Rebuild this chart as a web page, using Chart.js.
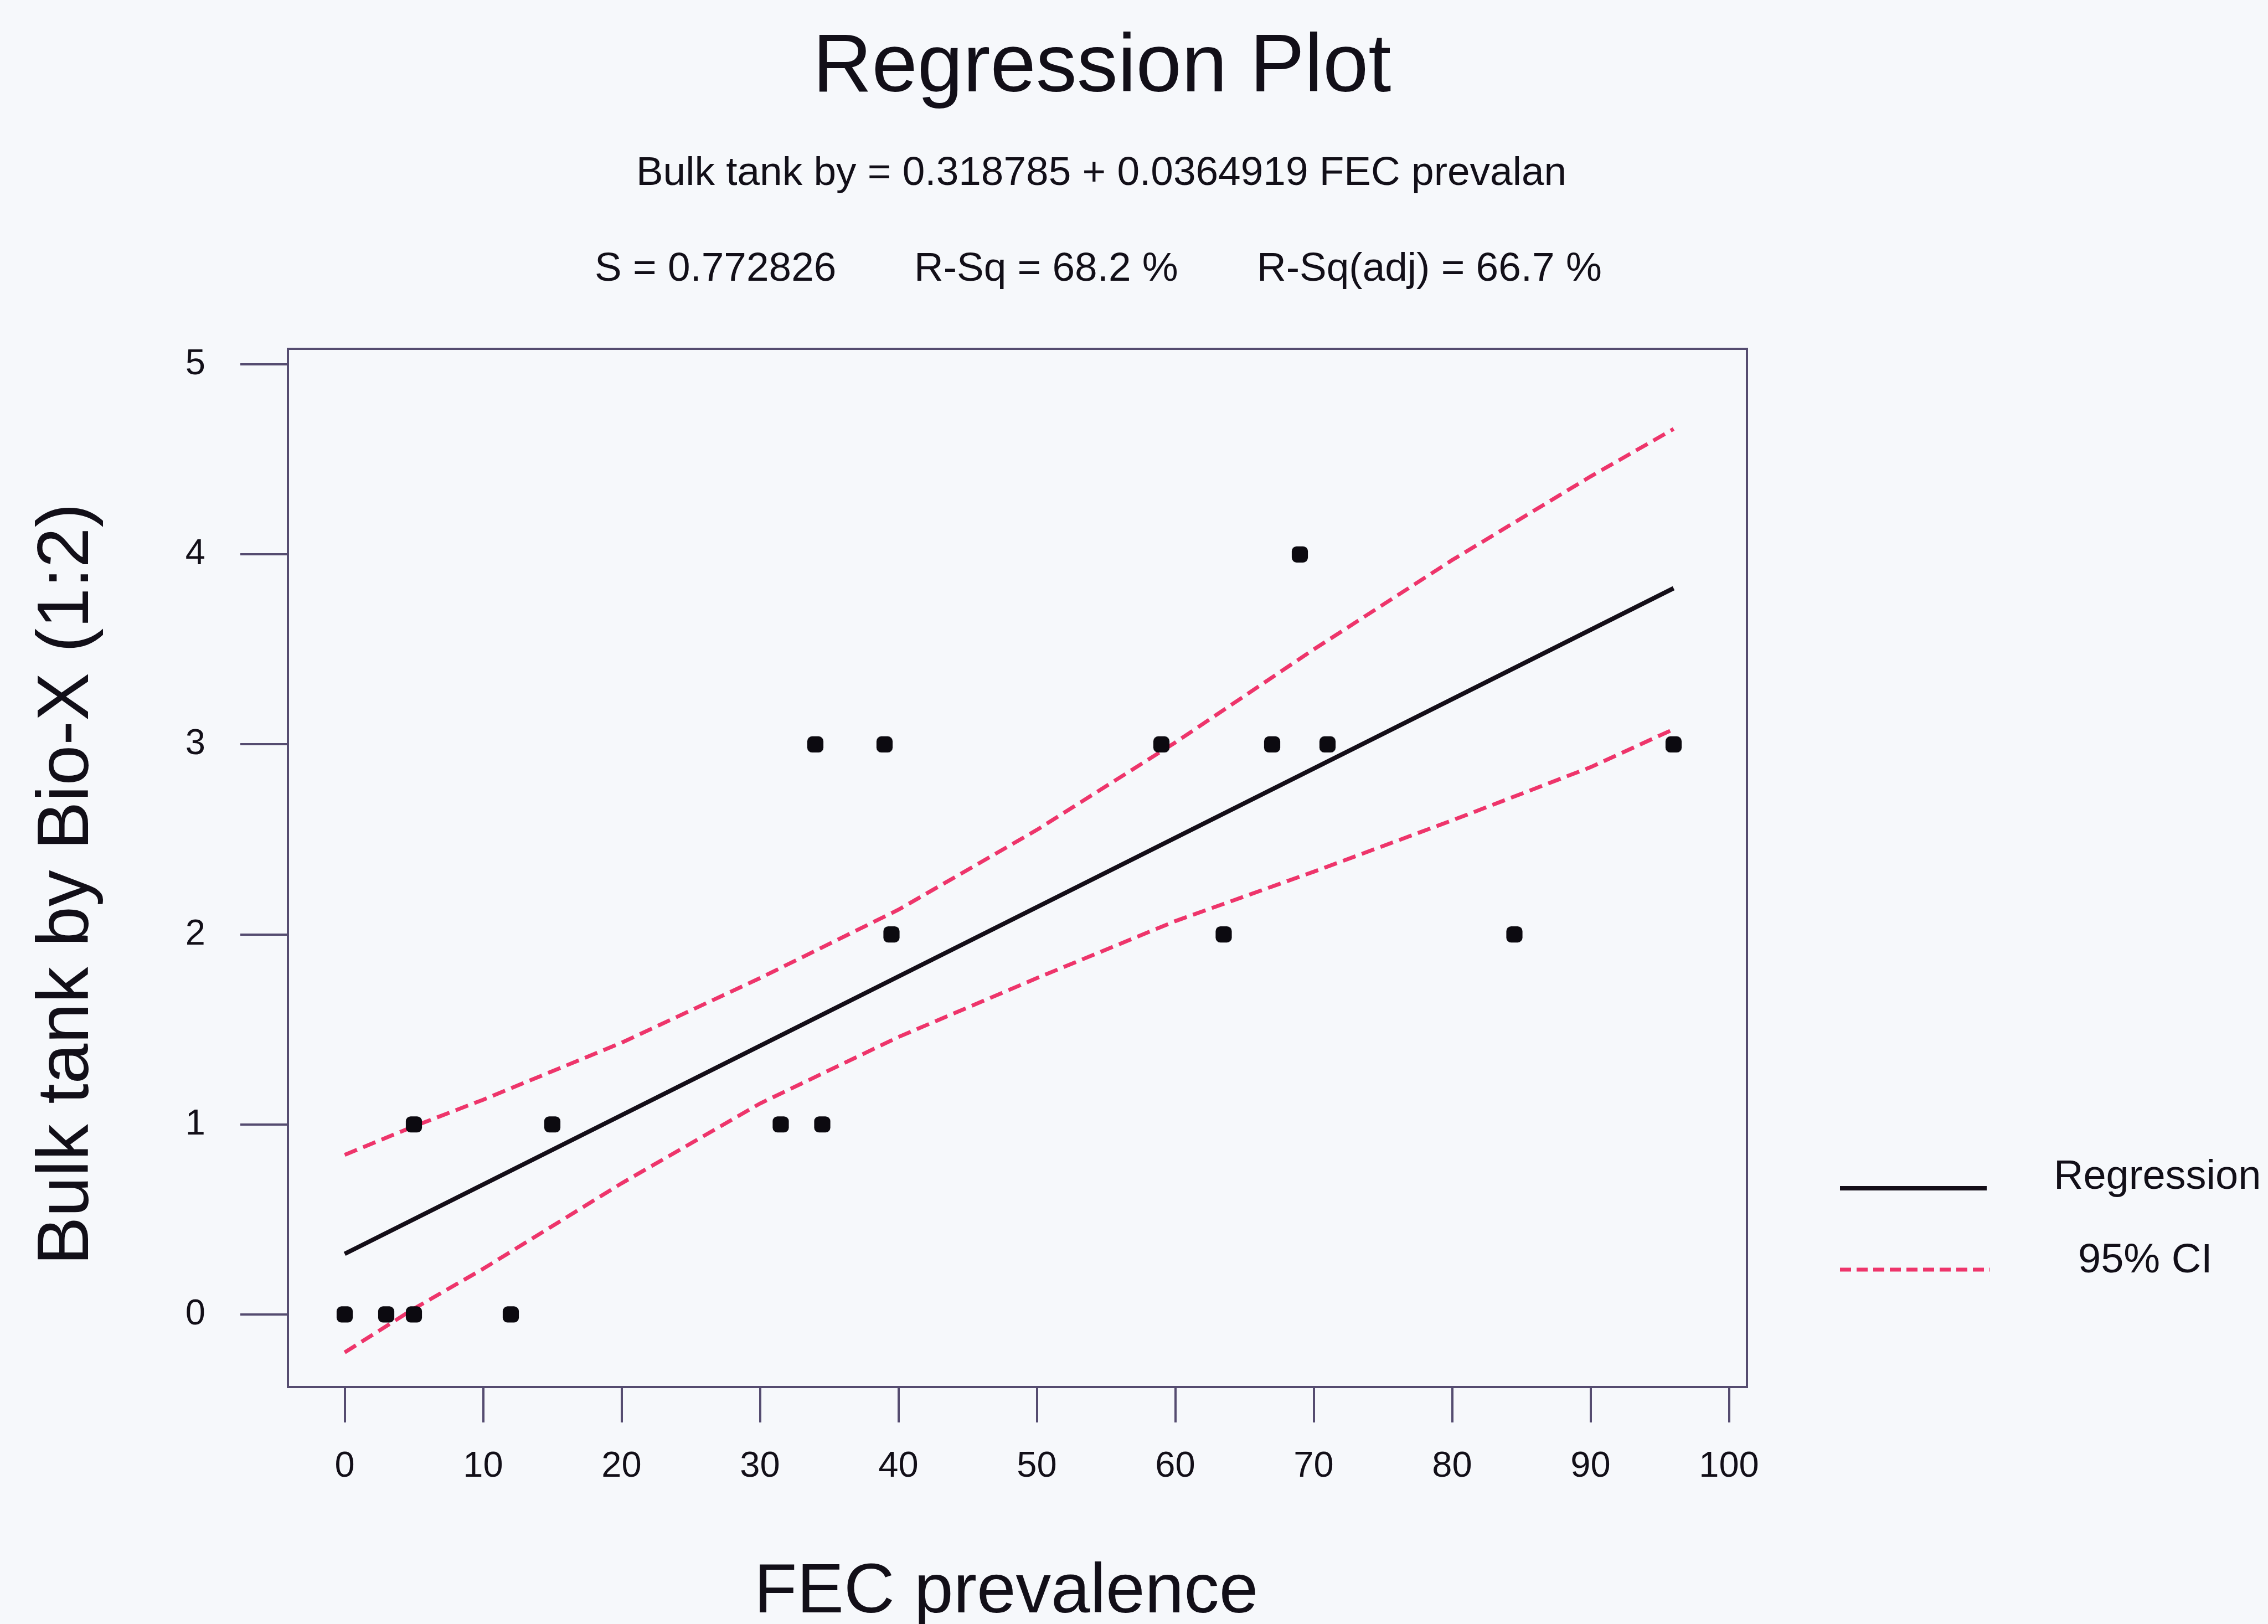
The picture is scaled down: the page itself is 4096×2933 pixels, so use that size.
<!DOCTYPE html>
<html>
<head>
<meta charset="utf-8">
<title>Regression Plot</title>
<script src="https://cdn.jsdelivr.net/npm/chart.js@4.4.1/dist/chart.umd.min.js"></script>
<style>
  html, body { margin: 0; padding: 0; background: #f6f8fb; }
  #wrap { width: 4096px; height: 2933px; }
</style>
</head>
<body>
<div id="wrap"><canvas id="chart" width="4096" height="2933"></canvas></div>
<script>
// observations: FEC prevalence vs bulk tank score
const fecX  = [0, 3, 5, 12, 5, 15, 31.5, 34.5, 39.5, 63.5, 84.5, 34, 39, 59, 67, 71, 96, 69];
const bulkY = [0, 0, 0, 0, 1, 1, 1, 1, 2, 2, 2, 3, 3, 3, 3, 3, 3, 4];

// fitted line and its statistics
const intercept = 0.318785;
const slope = 0.0364919;
const sValue = 0.772826;
const rSq = 68.2;
const rSqAdj = 66.7;
const fitX = [0, 96];

// 95% confidence band
const ciX     = [0, 5, 10, 20, 30, 40, 50, 60, 70, 80, 90, 96];
const ciUpper = [0.84, 0.99, 1.13, 1.43, 1.77, 2.13, 2.55, 3.01, 3.50, 3.97, 4.41, 4.66];
const ciLower = [-0.20, 0.03, 0.24, 0.69, 1.11, 1.46, 1.77, 2.07, 2.33, 2.60, 2.88, 3.08];

const xTicks = [0, 10, 20, 30, 40, 50, 60, 70, 80, 90, 100];
const yTicks = [0, 1, 2, 3, 4, 5];

const FONT = "'Liberation Sans', Arial, sans-serif";
const frameColor = "#554c70";
const textColor = "#120f18";
const lineColor = "#140e18";
const ciColor = "#ee356b";

const pts = (xs, ys) => xs.map((x, i) => ({ x: x, y: ys[i] }));

// titles, stats lines, axis titles, legend and the top/right edges of the frame
const annotate = {
  id: "annotate",
  afterDraw(chart) {
    const ctx = chart.ctx;
    const a = chart.chartArea;
    ctx.save();

    ctx.strokeStyle = frameColor;
    ctx.lineWidth = 4;
    ctx.beginPath();
    ctx.moveTo(a.left, a.top);
    ctx.lineTo(a.right, a.top);
    ctx.lineTo(a.right, a.bottom);
    ctx.stroke();

    ctx.fillStyle = textColor;
    ctx.textBaseline = "alphabetic";
    ctx.textAlign = "center";
    ctx.font = `148px ${FONT}`;
    ctx.fillText("Regression Plot", 1990, 165);

    ctx.font = `73px ${FONT}`;
    ctx.fillText(`Bulk tank by = ${intercept} + ${slope} FEC prevalan`, 1989, 334);
    ctx.textAlign = "left";
    ctx.fillText(`S = ${sValue}`, 1074, 507);
    ctx.fillText(`R-Sq = ${rSq} %`, 1651, 507);
    ctx.fillText(`R-Sq(adj) = ${rSqAdj} %`, 2270, 507);

    ctx.font = `127px ${FONT}`;
    ctx.textAlign = "center";
    ctx.fillText("FEC prevalence", 1817, 2912);
    ctx.save();
    ctx.font = `131px ${FONT}`;
    ctx.translate(159, 1597);
    ctx.rotate(-Math.PI / 2);
    ctx.fillText("Bulk tank by Bio-X (1:2)", 0, 0);
    ctx.restore();

    // legend
    ctx.lineWidth = 8;
    ctx.strokeStyle = lineColor;
    ctx.beginPath();
    ctx.moveTo(3323, 2146);
    ctx.lineTo(3588, 2146);
    ctx.stroke();
    ctx.strokeStyle = ciColor;
    ctx.lineWidth = 7;
    ctx.setLineDash([20, 10]);
    ctx.beginPath();
    ctx.moveTo(3323, 2293);
    ctx.lineTo(3594, 2293);
    ctx.stroke();
    ctx.setLineDash([]);

    ctx.font = `74px ${FONT}`;
    ctx.textAlign = "left";
    ctx.fillText("Regression", 3709, 2147);
    ctx.fillText("95% CI", 3753, 2298);
    ctx.restore();
  }
};

new Chart(document.getElementById("chart"), {
  type: "scatter",
  data: {
    datasets: [
      {
        label: "Observed",
        data: pts(fecX, bulkY),
        pointStyle: "rectRounded",
        pointRadius: 17,
        backgroundColor: "#0c0a10",
        borderColor: "#0c0a10",
        borderWidth: 0
      },
      {
        label: "Regression",
        data: pts(fitX, fitX.map(x => intercept + slope * x)),
        showLine: true,
        borderColor: lineColor,
        borderWidth: 8,
        pointRadius: 0
      },
      {
        label: "95% CI upper",
        data: pts(ciX, ciUpper),
        showLine: true,
        borderColor: ciColor,
        borderWidth: 7,
        borderDash: [24, 12],
        pointRadius: 0
      },
      {
        label: "95% CI lower",
        data: pts(ciX, ciLower),
        showLine: true,
        borderColor: ciColor,
        borderWidth: 7,
        borderDash: [24, 12],
        pointRadius: 0
      }
    ]
  },
  options: {
    responsive: false,
    animation: false,
    layout: { padding: { left: 0, top: 630, right: 941, bottom: 0 } },
    plugins: {
      legend: { display: false },
      tooltip: { enabled: false }
    },
    scales: {
      x: {
        type: "linear",
        min: -4.1,
        max: 101.3,
        afterBuildTicks: s => { s.ticks = xTicks.map(v => ({ value: v })); },
        afterFit: s => { s.height = 428; },
        grid: { drawOnChartArea: false, drawTicks: true, tickLength: 64, color: frameColor, lineWidth: 4 },
        border: { display: true, color: frameColor, width: 4 },
        ticks: { padding: 41, maxRotation: 0, color: textColor, font: { family: FONT, size: 65 } }
      },
      y: {
        type: "linear",
        min: -0.382,
        max: 5.082,
        afterBuildTicks: s => { s.ticks = yTicks.map(v => ({ value: v })); },
        afterFit: s => { s.width = 520; },
        grid: { drawOnChartArea: false, drawTicks: true, tickLength: 86, color: frameColor, lineWidth: 4 },
        border: { display: true, color: frameColor, width: 4 },
        ticks: { padding: 63, color: textColor, font: { family: FONT, size: 65 } }
      }
    }
  },
  plugins: [annotate]
});
</script>
</body>
</html>
